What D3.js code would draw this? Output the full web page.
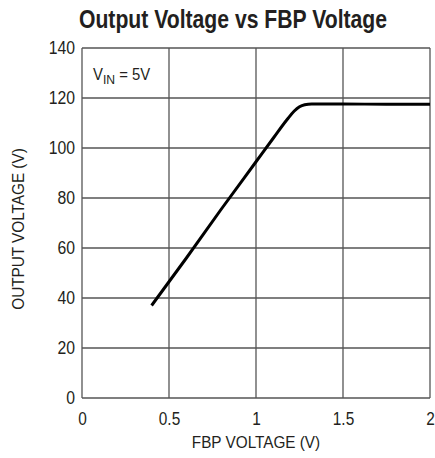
<!DOCTYPE html>
<html><head><meta charset="utf-8">
<script src="https://cdn.jsdelivr.net/npm/d3@7/dist/d3.min.js"></script>
<style>body{margin:0;background:#fff}svg{display:block}</style>
</head><body><svg id="c" width="435" height="458"></svg>
<script>
const fbpVoltage = [0.40, 0.60, 0.80, 1.00, 1.10, 1.18, 1.22, 1.25, 1.28, 1.32, 1.50, 1.75, 2.00];
const outputVoltage = [37, 56, 75.5, 94.5, 104, 111.5, 114.8, 116.5, 117.3, 117.6, 117.6, 117.5, 117.5];
const xTicks = [0, 0.5, 1, 1.5, 2];
const xTickLabels = ["0", "0.5", "1", "1.5", "2"];
const yTicks = [0, 20, 40, 60, 80, 100, 120, 140];

const FONT = "'Liberation Sans',Arial,sans-serif";
const INK = "#231f20";
const svg = d3.select("#c");
const m = {l: 82, r: 430, t: 48, b: 398};
const x = d3.scaleLinear().domain([0, 2]).range([m.l, m.r]);
const y = d3.scaleLinear().domain([0, 140]).range([m.b, m.t]);

// horizontally condense text (reference uses a condensed face)
function condense(sel, k) {
  sel.each(function () {
    const w = this.getComputedTextLength();
    d3.select(this).attr("textLength", w * k).attr("lengthAdjust", "spacingAndGlyphs");
  });
}

svg.append("text").attr("x", 233).attr("y", 28).attr("text-anchor", "middle")
  .attr("font-family", FONT).attr("font-weight", "bold").attr("font-size", 25.5).attr("fill", INK)
  .text("Output Voltage vs FBP Voltage").call(condense, 0.83);

const grid = svg.append("g").attr("stroke", "#555").attr("stroke-width", 1.3);
grid.selectAll("line.v").data(xTicks).join("line")
  .attr("x1", d => x(d)).attr("x2", d => x(d)).attr("y1", m.t).attr("y2", m.b);
grid.selectAll("line.h").data(yTicks).join("line")
  .attr("y1", d => y(d)).attr("y2", d => y(d)).attr("x1", m.l).attr("x2", m.r);

const xAxis = d3.axisBottom(x).tickValues(xTicks).tickFormat((d, i) => xTickLabels[i]).tickSize(0).tickPadding(15);
svg.append("g").attr("transform", `translate(0,${m.b})`).call(xAxis)
  .call(g => g.select(".domain").remove())
  .selectAll("text").attr("font-family", FONT).attr("font-size", 17.5).attr("fill", INK).call(condense, 0.88);

const yAxis = d3.axisLeft(y).tickValues(yTicks).tickSize(0).tickPadding(7);
svg.append("g").attr("transform", `translate(${m.l},0)`).call(yAxis)
  .call(g => g.select(".domain").remove())
  .selectAll("text").attr("font-family", FONT).attr("font-size", 17.5).attr("fill", INK).call(condense, 0.9);

svg.append("text").attr("x", 256).attr("y", 448).attr("text-anchor", "middle")
  .attr("font-family", FONT).attr("font-size", 17).attr("fill", INK).text("FBP VOLTAGE (V)").call(condense, 0.9);
svg.append("text").attr("transform", "translate(24,229) rotate(-90)").attr("text-anchor", "middle")
  .attr("font-family", FONT).attr("font-size", 17).attr("fill", INK).text("OUTPUT VOLTAGE (V)").call(condense, 0.9);

const vin = svg.append("text").attr("x", 93).attr("y", 80)
  .attr("font-family", FONT).attr("font-size", 16.5).attr("fill", INK);
vin.append("tspan").text("V");
vin.append("tspan").attr("dy", 4).attr("font-size", 13.5).text("IN");
vin.append("tspan").attr("dy", -4).text(" = 5V");
vin.call(condense, 0.9);

const pts = fbpVoltage.map((v, i) => [v, outputVoltage[i]]);
svg.append("path").datum(pts)
  .attr("d", d3.line().x(d => x(d[0])).y(d => y(d[1])).curve(d3.curveMonotoneX))
  .attr("fill", "none").attr("stroke", "#000").attr("stroke-width", 3);
</script></body></html>
